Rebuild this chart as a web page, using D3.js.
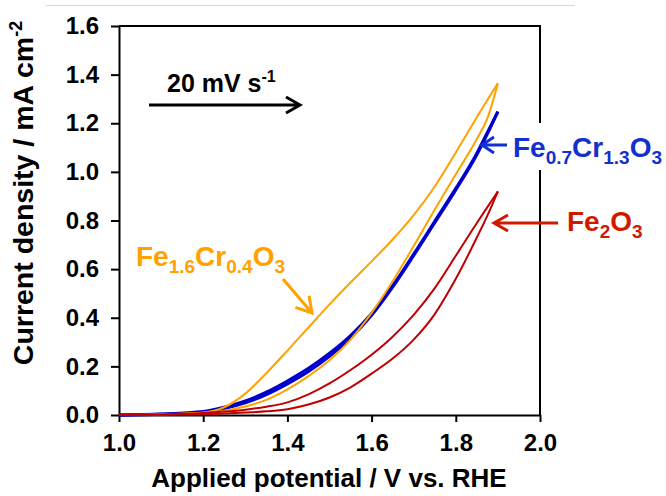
<!DOCTYPE html>
<html>
<head>
<meta charset="utf-8">
<script src="https://cdn.jsdelivr.net/npm/d3@7"></script>
<style>
  body { margin: 0; background: #fff; }
  svg { display: block; font-family: "Liberation Sans", Arial, sans-serif; font-weight: bold; }
</style>
</head>
<body>
<div id="chart"></div>
<script>
// potential grid (V vs. RHE), shared by every branch
var potential = [1.0, 1.1, 1.2, 1.25, 1.3, 1.35, 1.4, 1.45, 1.5, 1.55, 1.6, 1.65, 1.7, 1.75, 1.8, 1.85, 1.875, 1.9];

// current density (mA cm-2), two branches per sample
var fe2o3Up   = [0, 0.002, 0.008, 0.014, 0.022, 0.034, 0.052, 0.085, 0.13, 0.185, 0.248, 0.322, 0.412, 0.522, 0.655, 0.79, 0.855, 0.92];
var fe2o3Down = [0, 0.001, 0.003, 0.006, 0.01, 0.015, 0.024, 0.043, 0.072, 0.114, 0.17, 0.232, 0.31, 0.415, 0.56, 0.73, 0.82, 0.92];
var cr13Up    = [0, 0.004, 0.014, 0.032, 0.058, 0.094, 0.14, 0.192, 0.254, 0.327, 0.418, 0.532, 0.662, 0.797, 0.932, 1.077, 1.162, 1.248];
var cr13Down  = [0, 0.003, 0.011, 0.027, 0.05, 0.084, 0.128, 0.179, 0.241, 0.317, 0.41, 0.526, 0.656, 0.791, 0.926, 1.07, 1.156, 1.248];
var cr04Up    = [0, 0.003, 0.01, 0.032, 0.088, 0.172, 0.265, 0.36, 0.455, 0.545, 0.632, 0.722, 0.822, 0.94, 1.08, 1.225, 1.296, 1.364];
var cr04Down  = [0, 0.002, 0.008, 0.018, 0.035, 0.062, 0.105, 0.16, 0.225, 0.31, 0.42, 0.55, 0.695, 0.845, 0.99, 1.135, 1.22, 1.364];

var xTicks = [1.0, 1.2, 1.4, 1.6, 1.8, 2.0];
var yTicks = [0.0, 0.2, 0.4, 0.6, 0.8, 1.0, 1.2, 1.4, 1.6];

var orange = "#ffa200", blue = "#0000cc", red = "#c00000";

var svg = d3.select("#chart").append("svg")
    .attr("width", 666)
    .attr("height", 496);

// thin grey rule across the top of the picture
svg.append("line")
    .attr("x1", 46).attr("x2", 575).attr("y1", 5.5).attr("y2", 5.5)
    .attr("stroke", "#d9d9d9").attr("stroke-width", 1);

var x = d3.scaleLinear().domain([1.0, 2.0]).range([119, 540]);
var y = d3.scaleLinear().domain([0, 1.6]).range([415, 26]);

// frame (top + right)
svg.append("path")
    .attr("d", "M" + x(1.0) + "," + y(1.6) + "H" + x(2.0) + "V" + y(0))
    .attr("fill", "none").attr("stroke", "#000").attr("stroke-width", 2);

// X axis
var gx = svg.append("g")
    .attr("transform", "translate(0," + y(0) + ")")
    .call(d3.axisBottom(x).tickValues(xTicks).tickSize(7).tickSizeOuter(0).tickPadding(12).tickFormat(d3.format(".1f")));

// Y axis
var gy = svg.append("g")
    .attr("transform", "translate(" + x(1.0) + ",0)")
    .call(d3.axisLeft(y).tickValues(yTicks).tickSize(8).tickSizeOuter(0).tickPadding(12).tickFormat(d3.format(".1f")));

[gx, gy].forEach(function(g) {
  g.select(".domain").attr("stroke", "#000").attr("stroke-width", 2);
  g.selectAll(".tick line").attr("stroke", "#000").attr("stroke-width", 2);
  g.selectAll(".tick text")
    .attr("fill", "#000")
    .style("font-family", "'Liberation Sans', Arial, sans-serif")
    .style("font-weight", "bold")
    .style("font-size", "24px");
});

// axis titles
svg.append("text")
    .attr("x", 329).attr("y", 487)
    .attr("text-anchor", "middle")
    .style("font-size", "26px")
    .text("Applied potential / V vs. RHE");

var yt = svg.append("text")
    .attr("transform", "translate(33,193) rotate(-90)")
    .attr("text-anchor", "middle")
    .style("font-size", "28.5px");
yt.append("tspan").text("Current density / mA cm");
yt.append("tspan").attr("dy", -11).style("font-size", "18px").text("-2");

// curves
var line = d3.line()
    .x(function(d) { return x(d[0]); })
    .y(function(d) { return y(d[1]); })
    .curve(d3.curveMonotoneX);

function branch(values, color, width) {
  svg.append("path")
    .datum(potential.map(function(v, i) { return [v, values[i]]; }))
    .attr("d", line)
    .attr("fill", "none")
    .attr("stroke", color)
    .attr("stroke-width", width)
    .attr("stroke-linejoin", "round");
}

branch(cr13Up, blue, 3);
branch(cr13Down, blue, 3);
branch(cr04Up, orange, 2);
branch(cr04Down, orange, 2);
branch(fe2o3Up, red, 2);
branch(fe2o3Down, red, 2);

// arrows: shaft from (x1,y1) to tip (x2,y2) with an open head
function arrow(x1, y1, x2, y2, color, len, half) {
  var a = Math.atan2(y2 - y1, x2 - x1);
  var bx = x2 - len * Math.cos(a), by = y2 - len * Math.sin(a);
  var px = -Math.sin(a) * half, py = Math.cos(a) * half;
  svg.append("path")
    .attr("d", "M" + x1 + "," + y1 + "L" + x2 + "," + y2 +
               "M" + (bx + px) + "," + (by + py) + "L" + x2 + "," + y2 + "L" + (bx - px) + "," + (by - py))
    .attr("fill", "none")
    .attr("stroke", color)
    .attr("stroke-width", 3);
}

// chemical formula with subscripts
function formula(xp, yp, parts, color) {
  var t = svg.append("text").attr("x", xp).attr("y", yp).attr("fill", color);
  parts.forEach(function(p, i) {
    var sub = i % 2 == 1;
    t.append("tspan")
      .attr("dy", i == 0 ? 0 : (sub ? 7 : -7))
      .style("font-size", sub ? "19px" : "28px")
      .text(p);
  });
}

// white box behind the blue label (it hides part of the frame)
svg.append("rect")
    .attr("x", 508).attr("y", 123).attr("width", 158).attr("height", 47)
    .attr("fill", "#fff");

formula(513, 157, ["Fe", "0.7", "Cr", "1.3", "O", "3"], "#1030d0");
arrow(507, 145, 482, 145, "#1030d0", 12, 8);

formula(567, 231, ["Fe", "2", "O", "3"], "#d01a00");
arrow(558, 223, 494, 223, "#d01a00", 14, 8);

formula(136, 266, ["Fe", "1.6", "Cr", "0.4", "O", "3"], orange);
arrow(283, 279, 312, 313, orange, 15, 9);

// sweep rate
var sr = svg.append("text").attr("x", 167).attr("y", 92).style("font-size", "25px");
sr.append("tspan").text("20 mV s");
sr.append("tspan").attr("dy", -10).style("font-size", "16px").text("-1");
arrow(149, 105, 300, 105, "#000", 14, 8);
</script>
</body>
</html>
